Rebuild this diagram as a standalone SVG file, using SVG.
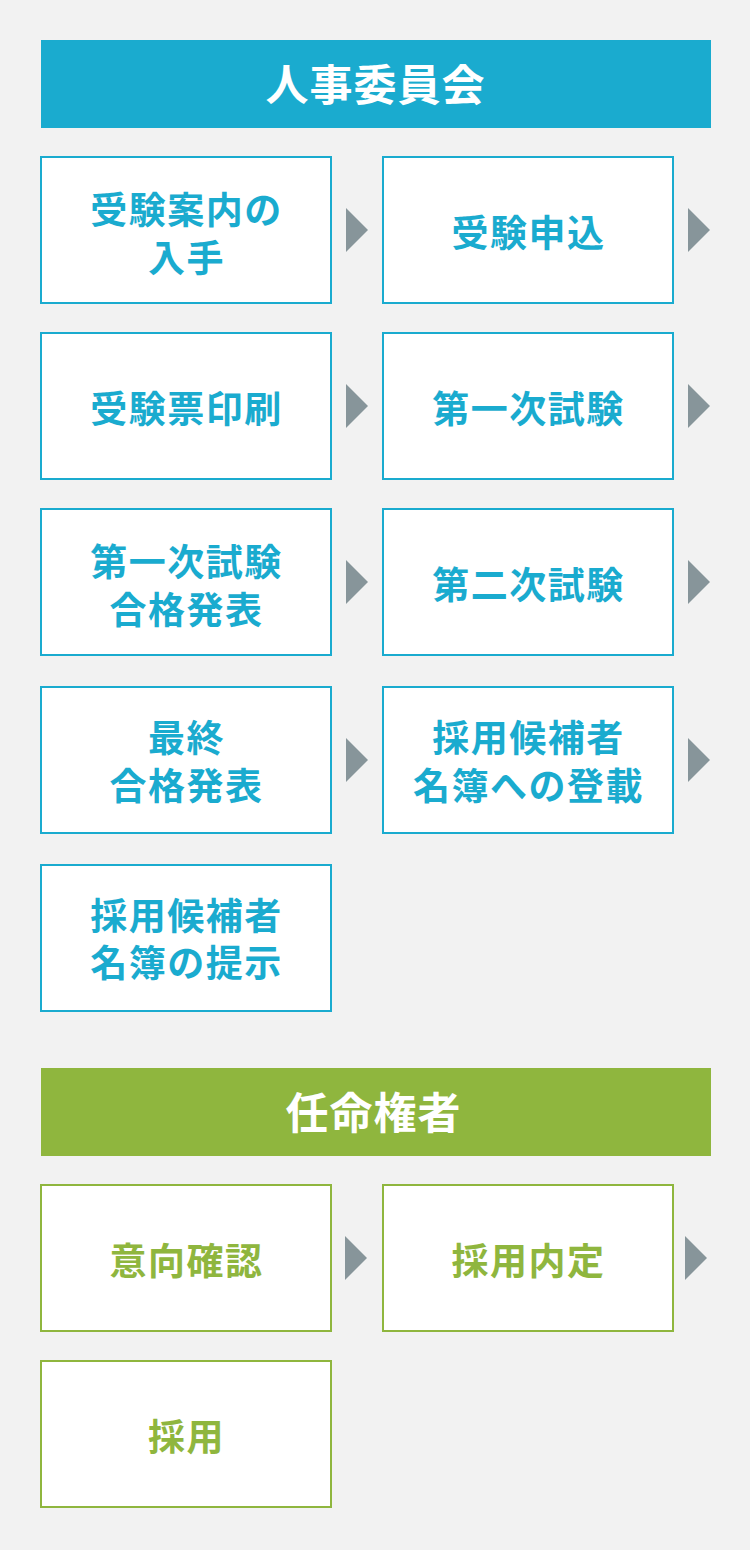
<svg xmlns="http://www.w3.org/2000/svg" width="750" height="1550" viewBox="0 0 750 1550">
<style>
.bg{fill:#f2f2f2}
.hdr{font-family:"Noto Sans CJK JP","Noto Sans",sans-serif;font-weight:bold;font-size:43px;fill:#ffffff;text-anchor:middle;letter-spacing:1px}
.bx{fill:#ffffff;stroke-width:2}
.bb{stroke:#1aabcf}
.gb{stroke:#8fb63e}
.t{font-family:"Noto Sans CJK JP","Noto Sans",sans-serif;font-weight:bold;font-size:37px;text-anchor:middle;letter-spacing:1.5px}
.tb{fill:#1aabcf}
.tg{fill:#8fb63e}
.ar{fill:#87959a}
</style>
<rect class="bg" x="0" y="0" width="750" height="1550"/>

<g id="header-jinji">
<rect x="41" y="40" width="670" height="88" fill="#1aabcf"/>
<text class="hdr" x="375.5" y="101">人事委員会</text>
</g>

<g id="connectors">
<polygon class="ar" points="346,208 368,230 346,252"/>
<polygon class="ar" points="688,208 710,230 688,252"/>
<polygon class="ar" points="346,384 368,406 346,428"/>
<polygon class="ar" points="688,384 710,406 688,428"/>
<polygon class="ar" points="346,560 368,582 346,604"/>
<polygon class="ar" points="688,560 710,582 688,604"/>
<polygon class="ar" points="346,738 368,760 346,782"/>
<polygon class="ar" points="688,738 710,760 688,782"/>
<polygon class="ar" points="345,1236 367,1258 345,1280"/>
<polygon class="ar" points="685,1236 707,1258 685,1280"/>
</g>

<g id="n1">
<rect class="bx bb" x="41" y="157" width="290" height="146"/>
<text class="t tb" x="186.5" y="224">受験案内の</text>
<text class="t tb" x="186.5" y="272">入手</text>
</g>
<g id="n2">
<rect class="bx bb" x="383" y="157" width="290" height="146"/>
<text class="t tb" x="528.5" y="247">受験申込</text>
</g>
<g id="n3">
<rect class="bx bb" x="41" y="333" width="290" height="146"/>
<text class="t tb" x="186.5" y="423">受験票印刷</text>
</g>
<g id="n4">
<rect class="bx bb" x="383" y="333" width="290" height="146"/>
<text class="t tb" x="528.5" y="423">第一次試験</text>
</g>
<g id="n5">
<rect class="bx bb" x="41" y="509" width="290" height="146"/>
<text class="t tb" x="186.5" y="576">第一次試験</text>
<text class="t tb" x="186.5" y="624">合格発表</text>
</g>
<g id="n6">
<rect class="bx bb" x="383" y="509" width="290" height="146"/>
<text class="t tb" x="528.5" y="599">第二次試験</text>
</g>
<g id="n7">
<rect class="bx bb" x="41" y="687" width="290" height="146"/>
<text class="t tb" x="186.5" y="752">最終</text>
<text class="t tb" x="186.5" y="800">合格発表</text>
</g>
<g id="n8">
<rect class="bx bb" x="383" y="687" width="290" height="146"/>
<text class="t tb" x="528.5" y="752">採用候補者</text>
<text class="t tb" x="528.5" y="800">名簿への登載</text>
</g>
<g id="n9">
<rect class="bx bb" x="41" y="865" width="290" height="146"/>
<text class="t tb" x="186.5" y="930">採用候補者</text>
<text class="t tb" x="186.5" y="977">名簿の提示</text>
</g>

<g id="header-ninmei">
<rect x="41" y="1068" width="670" height="88" fill="#8fb63e"/>
<text class="hdr" x="373.5" y="1129">任命権者</text>
</g>

<g id="n10">
<rect class="bx gb" x="41" y="1185" width="290" height="146"/>
<text class="t tg" x="186.5" y="1275">意向確認</text>
</g>
<g id="n11">
<rect class="bx gb" x="383" y="1185" width="290" height="146"/>
<text class="t tg" x="528.5" y="1275">採用内定</text>
</g>
<g id="n12">
<rect class="bx gb" x="41" y="1361" width="290" height="146"/>
<text class="t tg" x="186.5" y="1451">採用</text>
</g>
</svg>
